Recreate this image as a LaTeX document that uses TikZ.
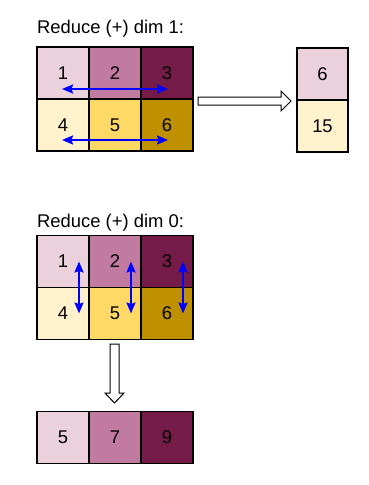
\documentclass[tikz,border=0pt]{standalone}
\usepackage{fontspec}
\setmainfont{Liberation Sans}
\usetikzlibrary{arrows.meta}
\definecolor{mA}{HTML}{EAD1DC}
\definecolor{mB}{HTML}{C27BA0}
\definecolor{mC}{HTML}{741B47}
\definecolor{yA}{HTML}{FFF2CC}
\definecolor{yB}{HTML}{FFD966}
\definecolor{yC}{HTML}{BF9000}
\begin{document}
\begin{tikzpicture}[x=1pt,y=-1pt,
  cell/.style={draw=black, line width=1.2pt, minimum width=52pt, minimum height=52pt, inner sep=0pt, font=\fontsize{18.4}{20}\selectfont},
  title/.style={anchor=base west, inner sep=0pt, font=\fontsize{18.4}{20}\selectfont},
  flow/.style={blue, line width=2pt, {Stealth[length=11pt,width=9pt,inset=1.5pt]}-{Stealth[length=11pt,width=9pt,inset=1.5pt]}},
  hollow/.style={draw=black, fill=white, line width=1pt, line join=miter}]
\useasboundingbox (0,0) rectangle (369,485);
\fill[white] (0,0) rectangle (369,485);
% top section
\node[title] (t1) at (37,33) {Reduce (+) dim 1:};
\node[cell, fill=mA] (a1) at (63,73) {1};
\node[cell, fill=mB] (a2) at (115,73) {2};
\node[cell, fill=mC] (a3) at (167,73) {3};
\node[cell, fill=yA] (a4) at (63,125) {4};
\node[cell, fill=yB] (a5) at (115,125) {5};
\node[cell, fill=yC] (a6) at (167,125) {6};
\draw[flow] ([xshift=-1pt,yshift=-16pt]a1.center) -- ([xshift=1pt,yshift=-16pt]a3.center);
\draw[flow] ([xshift=-1pt,yshift=-15pt]a4.center) -- ([xshift=1pt,yshift=-15pt]a6.center);
\draw[hollow] (198,97) -- (281,97) -- (281,91) -- (291,101) -- (281,111) -- (281,105) -- (198,105) -- cycle;
\node[cell, fill=mA, minimum width=51pt] (r1) at (322.5,74) {6};
\node[cell, fill=yA, minimum width=51pt] (r2) at (322.5,126) {15};
% bottom section
\node[title] (t2) at (37,227) {Reduce (+) dim 0:};
\node[cell, fill=mA] (b1) at (63,261.5) {1};
\node[cell, fill=mB] (b2) at (115,261.5) {2};
\node[cell, fill=mC] (b3) at (167,261.5) {3};
\node[cell, fill=yA] (b4) at (63,313.5) {4};
\node[cell, fill=yB] (b5) at (115,313.5) {5};
\node[cell, fill=yC] (b6) at (167,313.5) {6};
\draw[flow] ([xshift=16pt]b1.center) -- ([xshift=16pt]b4.center);
\draw[flow] ([xshift=16pt]b2.center) -- ([xshift=16pt]b5.center);
\draw[flow] ([xshift=16pt]b3.center) -- ([xshift=16pt]b6.center);
\draw[hollow] (110,344) -- (119,344) -- (119,393) -- (124,393) -- (114.5,403) -- (105,393) -- (110,393) -- cycle;
\node[cell, fill=mA] (c1) at (63,437.5) {5};
\node[cell, fill=mB] (c2) at (115,437.5) {7};
\node[cell, fill=mC] (c3) at (167,437.5) {9};
\end{tikzpicture}
\end{document}
